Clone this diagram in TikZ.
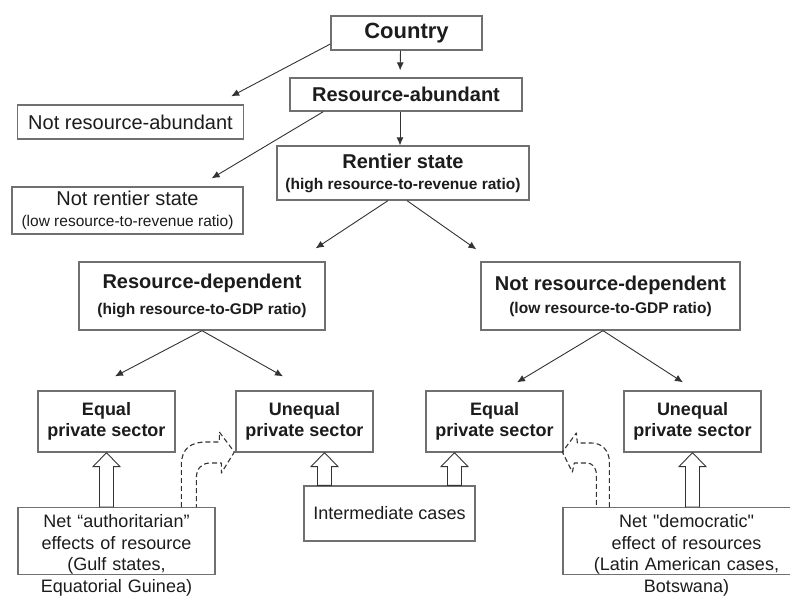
\documentclass[tikz,border=0pt]{standalone}
\usepackage{fontspec}
\setmainfont{Liberation Sans}
\newfontfamily\qfont{Liberation Sans}[Ligatures=TeXOff]
\usetikzlibrary{calc,arrows.meta}
\newcommand\fsA{\fontsize{22pt}{26pt}\selectfont}
\newcommand\fsB{\fontsize{20pt}{24pt}\selectfont}
\newcommand\fsC{\fontsize{15.5pt}{18pt}\selectfont}
\newcommand\fsD{\fontsize{18pt}{21.5pt}\selectfont}
\newcommand\blockup[2]{\draw[blockarr] let \p1=#1, \p2=#2 in
  (\x1,\y1) -- (\x1+13.5pt,\y1-14pt) -- (\x1+7pt,\y1-14pt) -- (\x1+7pt,\y2)
  -- (\x1-7pt,\y2) -- (\x1-7pt,\y1-14pt) -- (\x1-13.5pt,\y1-14pt) -- cycle;}
\definecolor{boxline}{HTML}{707070}
\definecolor{txt}{HTML}{1C1C1C}
\definecolor{arr}{HTML}{333333}
\tikzset{
  box/.style={draw=boxline, line width=1.3pt, fill=white, inner sep=0pt, align=center, text=txt},
  conn/.style={draw=arr, line width=0.9pt, -{Latex[length=8pt,width=7pt]}},
  blockarr/.style={draw=arr, line width=0.9pt, fill=white},
  dasharr/.style={draw=arr, line width=1.1pt, dash pattern=on 5pt off 3pt, line join=round}
}
\begin{document}
\begin{tikzpicture}[x=1pt,y=-1pt]
\clip (0,0) rectangle (790,596);
\fill[white] (0,0) rectangle (790,596);

\node[box, minimum width=151pt, minimum height=34pt] (country) at (406.5,33) {\fsA\bfseries Country};
\node[box, minimum width=232pt, minimum height=33pt] (ra) at (406,94.5) {\fsB\bfseries Resource-abundant};
\node[box, minimum width=226pt, minimum height=34pt] (nra) at (130.5,122) {\fsB Not resource-abundant};
\node[box, minimum width=252pt, minimum height=54pt, font=\fsB] (rentier) at (403,173)
  {{\bfseries Rentier state}\\[-3pt]{\fsC\bfseries (high resource-to-revenue ratio)}};
\node[box, minimum width=231pt, minimum height=47pt, font=\fsB] (nrs) at (127.5,210.5)
  {Not rentier state\\[-3pt]{\fsC (low resource-to-revenue ratio)}};
\node[box, minimum width=246pt, minimum height=68pt, font=\fsB] (rd) at (202,296)
  {{\bfseries Resource-dependent}\\[2pt]{\fsC\bfseries (high resource-to-GDP ratio)}};
\node[box, minimum width=259pt, minimum height=68pt, font=\fsB] (nrd) at (610.5,296)
  {{\bfseries Not resource-dependent}\\[-1pt]{\fsC\bfseries (low resource-to-GDP ratio)}};

\node[box, minimum width=137pt, minimum height=61pt, font=\fsD\bfseries] (eqL) at (106.5,421.5) {Equal\\private sector};
\node[box, minimum width=137pt, minimum height=61pt, font=\fsD\bfseries] (uneqL) at (304.5,421.5) {Unequal\\private sector};
\node[box, minimum width=137pt, minimum height=61pt, font=\fsD\bfseries] (eqR) at (494.5,421.5) {Equal\\private sector};
\node[box, minimum width=137pt, minimum height=61pt, font=\fsD\bfseries] (uneqR) at (692.5,421.5) {Unequal\\private sector};

\node[box, minimum width=171pt, minimum height=55pt, font=\fsD] (inter) at (389.5,513.5) {Intermediate cases};
\node[box, anchor=north, text width=197pt, inner ysep=7pt, text depth=40pt, font=\fsD] (auth) at (116.5,507)
  {Net \char"201C authoritarian\char"201D\\effects of resource\\(Gulf states,\\Equatorial Guinea)};
\node[box, anchor=north, text width=247pt, inner ysep=7pt, text depth=40pt, font=\fsD] (dem) at (686.5,507)
  {Net {\qfont "}democratic{\qfont "}\\effect of resources\\(Latin American cases,\\Botswana)};

% connectors
\draw[conn, shorten >=7pt] ([xshift=-6pt]country.south) -- ([xshift=-6pt]ra.north);
\draw[conn] ([yshift=-11pt]country.west) -- ([xshift=-13pt,yshift=8pt]nra.north east);
\draw[conn] ([xshift=-6pt]ra.south) -- ([xshift=-3pt]rentier.north);
\draw[conn] ([xshift=34pt]ra.south west) -- ([xshift=-32pt,yshift=8pt]nrs.north east);
\draw[conn] ([xshift=-15pt]rentier.south) -- ([xshift=-10pt,yshift=13pt]rd.north east);
\draw[conn] ([xshift=4pt]rentier.south) -- ([xshift=-4pt,yshift=12pt]nrd.north west);
\draw[conn] (rd.south) -- ([xshift=8.5pt,yshift=14pt]eqL.north);
\draw[conn] (rd.south) -- ([xshift=-21.5pt,yshift=14pt]uneqL.north);
\draw[conn] ([xshift=-7.5pt]nrd.south) -- ([xshift=22.5pt,yshift=8pt]eqR.north);
\draw[conn] ([xshift=-7.5pt]nrd.south) -- ([xshift=-9.5pt,yshift=8pt]uneqR.north);

% hollow block arrows
\blockup{(eqL.south)}{(eqL.south |- auth.north)}
\blockup{([xshift=20pt]uneqL.south)}{([xshift=20pt]uneqL.south |- inter.north)}
\blockup{([xshift=-40pt]eqR.south)}{([xshift=-40pt]eqR.south |- inter.north)}
\blockup{(uneqR.south)}{(uneqR.south |- dem.north)}

% dashed curved arrows
\begin{scope}[shift={(auth.north west)}]
\draw[dasharr] (164,0) -- (164,-42) .. controls (164,-59) and (174,-65) .. (189,-65) -- (202,-65)
  -- (202,-75) -- (217,-55) -- (204,-34) -- (204,-44) -- (193,-44)
  .. controls (185,-44) and (179,-39) .. (179,-29) -- (179,0);
\end{scope}
\begin{scope}[shift={(dem.north west)}]
\draw[dasharr] (47,0) -- (47,-45) .. controls (47,-57) and (39,-64) .. (29,-64) -- (15,-64)
  -- (14,-74) -- (0,-55) -- (10,-35) -- (12,-44) -- (24,-44)
  .. controls (30,-44) and (34,-40) .. (34,-32) -- (34,0);
\end{scope}
\end{tikzpicture}
\end{document}
